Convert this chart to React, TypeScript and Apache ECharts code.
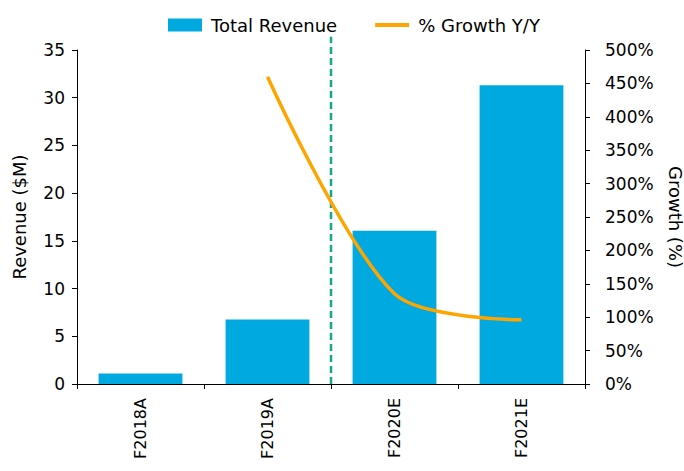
import React, { useEffect, useRef } from "react";
import * as echarts from "echarts";

const categories = ["F2018A", "F2019A", "F2020E", "F2021E"];
const revenue = [1.1, 6.75, 16.05, 31.3];
const growth: (number | null)[] = [null, 460, 135, 96];
const leftTicks = { min: 0, max: 35, interval: 5 };
const rightTicks = { min: 0, max: 500, interval: 50 };
const dividerX = [2, 2];
const dividerY = [0, 36.4];

const FONT = "'DejaVu Sans', sans-serif";

export default function App() {
  const ref = useRef<HTMLDivElement>(null);
  useEffect(() => {
    if (!ref.current) return;
    const chart = echarts.init(ref.current, undefined, { renderer: "svg" });
    const axisLine = { show: true, lineStyle: { color: "#000", width: 1 } };
    chart.setOption({
      animation: false,
      textStyle: { fontFamily: FONT },
      legend: {
        top: 11,
        left: 163,
        itemGap: 38,
        itemWidth: 34,
        itemHeight: 13,
        textStyle: { fontSize: 18, color: "#000", fontFamily: FONT, padding: [0, 0, 0, 4] },
        data: [
          { name: "Total Revenue", icon: "rect" },
          { name: "% Growth Y/Y", icon: "path://M0,0 L34,0 L34,4 L0,4 Z", itemStyle: { color: "#FFA500" } },
        ],
      },
      grid: { left: 77, right: 99, top: 50, bottom: 87, outerBoundsMode: "none" },
      xAxis: [
        {
          type: "category",
          data: categories,
          boundaryGap: true,
          axisLine,
          axisTick: { show: true, length: 5, lineStyle: { color: "#000" } },
          axisLabel: { rotate: 90, margin: 14, fontSize: 16, color: "#000", fontFamily: FONT },
        },
        { type: "value", min: 0, max: 4, show: false },
      ],
      yAxis: [
        {
          type: "value",
          ...leftTicks,
          name: "Revenue ($M)",
          nameLocation: "middle",
          nameRotate: 90,
          nameGap: 49,
          nameTextStyle: { fontSize: 18, color: "#000", fontFamily: FONT },
          axisLine,
          axisTick: { show: true, length: 5, lineStyle: { color: "#000" } },
          axisLabel: { fontSize: 17, color: "#000", margin: 12, fontFamily: FONT },
          splitLine: { show: false },
        },
        {
          type: "value",
          ...rightTicks,
          position: "right",
          name: "Growth (%)",
          nameLocation: "middle",
          nameRotate: -90,
          nameGap: 81,
          nameTextStyle: { fontSize: 18, color: "#000", fontFamily: FONT },
          axisLine,
          axisTick: { show: true, length: 5, lineStyle: { color: "#000" } },
          axisLabel: { fontSize: 17, color: "#000", margin: 20, formatter: "{value}%", fontFamily: FONT },
          splitLine: { show: false },
        },
      ],
      series: [
        {
          name: "Total Revenue",
          type: "bar",
          data: revenue,
          barWidth: "66%",
          itemStyle: { color: "#00A9E0" },
          z: 1,
        },
        {
          name: "divider",
          type: "line",
          xAxisIndex: 1,
          yAxisIndex: 0,
          data: dividerX.map((x, i) => [x, dividerY[i]]),
          symbol: "none",
          clip: false,
          lineStyle: { color: "#12A889", width: 2.5, type: [7, 4] },
          silent: true,
          z: 2,
        },
        {
          name: "% Growth Y/Y",
          type: "line",
          yAxisIndex: 1,
          data: growth,
          smooth: 0.3,
          symbol: "none",
          connectNulls: false,
          lineStyle: { color: "#FFA500", width: 3.5 },
          itemStyle: { color: "#FFA500" },
          z: 3,
        },
      ],
    });
    return () => chart.dispose();
  }, []);
  return <div ref={ref} style={{ width: 684, height: 471, position: "absolute", left: 0, top: 0 }} />;
}
